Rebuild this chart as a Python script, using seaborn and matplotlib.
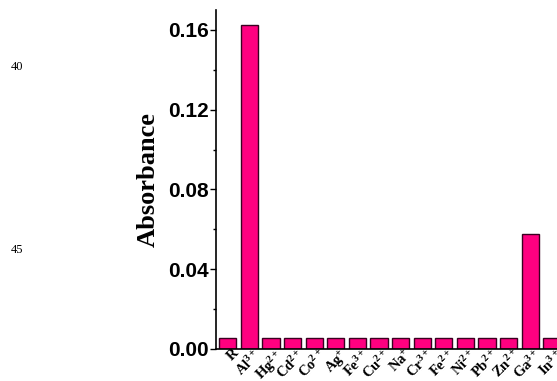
"""Absorbance of the probe R with different metal ions."""
import pandas as pd
import matplotlib
matplotlib.use("Agg")
import matplotlib.pyplot as plt
from matplotlib.ticker import MultipleLocator
from matplotlib.transforms import ScaledTranslation
import seaborn as sns

# data
ions = ["R", "Al$^{3+}$", "Hg$^{2+}$", "Cd$^{2+}$", "Co$^{2+}$", "Ag$^{+}$",
        "Fe$^{3+}$", "Cu$^{2+}$", "Na$^{+}$", "Cr$^{3+}$", "Fe$^{2+}$",
        "Ni$^{2+}$", "Pb$^{2+}$", "Zn$^{2+}$", "Ga$^{3+}$", "In$^{3+}$"]
absorbance = [0.0055, 0.1625, 0.0055, 0.0055, 0.0055, 0.0055,
              0.0055, 0.0055, 0.0055, 0.0055, 0.0055,
              0.0055, 0.0055, 0.0055, 0.0575, 0.0055]
y_ticks = [0.00, 0.04, 0.08, 0.12, 0.16]

df = pd.DataFrame({"ion": ions, "absorbance": absorbance})

sns.set_style("white")
plt.rcParams["mathtext.default"] = "regular"
plt.rcParams["text.color"] = "black"
plt.rcParams["axes.labelcolor"] = "black"
plt.rcParams["xtick.color"] = "black"
plt.rcParams["ytick.color"] = "black"

fig = plt.figure(figsize=(5.57, 3.81), dpi=100)
ax = fig.add_axes([0.388, 0.084, 0.62, 0.89])

sns.barplot(data=df, x="ion", y="absorbance", ax=ax, color="#FF0080",
            saturation=1, width=0.8, edgecolor="#3a0020", linewidth=1)

ax.set_xlim(-0.54, 15.45)
ax.set_ylim(0, 0.17)
ax.set_yticks(y_ticks)
ax.set_yticklabels([f"{v:.2f}" for v in y_ticks],
                   fontsize=15, fontweight="bold", family="Liberation Sans")
ax.yaxis.set_minor_locator(MultipleLocator(0.02))
ax.tick_params(axis="y", which="major", direction="out", length=4, width=1,
               left=True, pad=1)
ax.tick_params(axis="y", which="minor", direction="out", length=2.5, width=1,
               left=True)
ax.tick_params(axis="x", length=0, pad=0)
shift = ScaledTranslation(4 / 100, 2 / 100, fig.dpi_scale_trans)
for lab in ax.get_xticklabels():
    lab.set_rotation(45)
    lab.set_ha("right")
    lab.set_rotation_mode("anchor")
    lab.set_fontsize(10.5)
    lab.set_fontweight("bold")
    lab.set_family("Liberation Serif")
    lab.set_transform(lab.get_transform() + shift)

ax.set_xlabel("")
ax.set_ylabel("Absorbance", fontsize=19, fontweight="bold",
              family="Liberation Serif", labelpad=6)

sns.despine(ax=ax)
for side in ["left", "bottom"]:
    ax.spines[side].set_color("black")
    ax.spines[side].set_linewidth(1.2)

# manuscript line numbers
fig.text(0.02, 0.815, "40", fontsize=9, family="Liberation Serif")
fig.text(0.02, 0.335, "45", fontsize=9, family="Liberation Serif")

plt.savefig("out.png", dpi=100)
plt.close()
